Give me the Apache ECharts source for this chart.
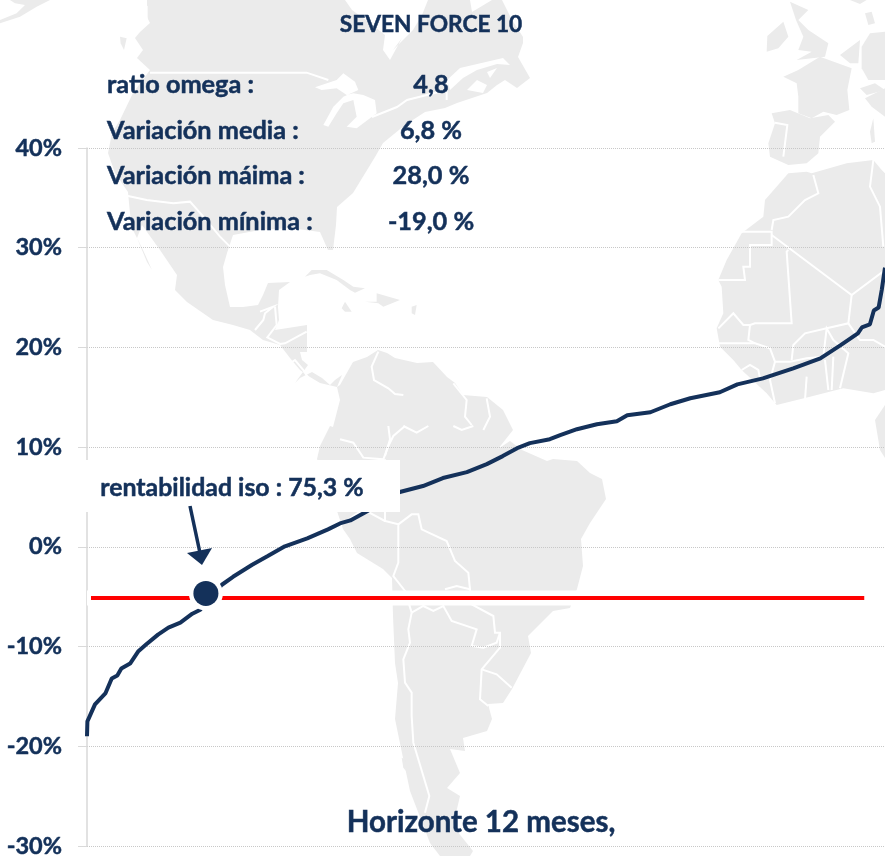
<!DOCTYPE html>
<html>
<head>
<meta charset="utf-8">
<title>Seven Force 10</title>
<style>
html, body { margin: 0; padding: 0; background: #fff; }
#main { width: 885px; height: 856px; }
</style>
<script src="https://cdn.jsdelivr.net/npm/echarts@6/dist/echarts.min.js"></script>
</head>
<body>
<div id="main"></div>
<script>
// data
const percentil = [0, 0.05, 1.0, 2.3, 3.1, 3.8, 4.3, 5.4, 6.4, 7.4, 8.9, 10.2, 11.7, 13.2, 14.2, 16.9, 18.3, 20.7, 22.6, 24.8, 27.6, 30.2, 31.7, 33.0, 34.6, 36.8, 39.2, 42.1, 44.6, 47.6, 50.1, 52.1, 53.9, 55.5, 58.0, 59.3, 61.4, 63.9, 66.4, 67.7, 70.6, 73.1, 75.6, 79.3, 81.5, 84.7, 88.5, 91.9, 94.4, 96.6, 97.1, 98.1, 98.6, 99.2, 99.6, 100];
const variacion = [-19.0, -17.5, -15.8, -14.7, -13.2, -12.9, -12.2, -11.7, -10.5, -9.8, -8.8, -8.1, -7.6, -6.7, -6.3, -3.8, -3.0, -1.8, -0.95, 0.05, 0.85, 1.75, 2.35, 2.65, 3.35, 4.35, 5.5, 6.1, 6.9, 7.5, 8.3, 9.1, 9.9, 10.4, 10.8, 11.2, 11.8, 12.3, 12.6, 13.2, 13.5, 14.3, 14.9, 15.5, 16.3, 16.9, 17.9, 18.9, 20.2, 21.4, 22.0, 22.3, 23.7, 24.0, 25.8, 28.0];
const linea_x = [0.5, 97.4];
const linea_y = [-5.13, -5.13];
const punto_iso = [14.9, -4.67];
const etiquetas = ['ratio omega :', 'Variación media :', 'Variación máima :', 'Variación mínima :'];
const valores = ['4,8', '6,8 %', '28,0 %', '-19,0 %'];

const AZUL = '#14315a';
const FUENTE = 'Lato, "Open Sans", sans-serif';
const TIERRA = '#ebebeb';

// background map, traced by hand in screen pixels (zoom crops are 3x)
function z3(ox, oy, pts) {
    const out = [];
    for (let i = 0; i < pts.length; i += 2) out.push([ox + pts[i] / 3, oy + pts[i + 1] / 3]);
    return out;
}
function pares(pts) { return z3(0, 0, pts.map(v => v * 3)); }

const tierras = [
    // top left corner
    z3(0, 0, [30,0, 150,0, 110,20, 60,50, 0,70, 0,60, 50,40, 75,15, 45,10]),
    // vancouver
    z3(0, 0, [360,110, 380,115, 372,150, 362,130]),
    // north america down to panama
    pares([147,0, 147,17, 150,23, 140,32, 135,38, 143,50, 137,58, 150,70, 133,93, 120,120, 112,133, 108,153, 115,173, 128,192, 130,213,
        132,228, 143,250, 152,270, 147,262, 137,238, 142,225, 160,250, 177,275, 175,290, 187,302, 213,320, 233,325, 250,330, 263,340, 280,345,
        290,358, 300,370, 310,377, 320,383, 337,387, 342,375, 335,380, 330,385, 322,378, 312,372, 300,378, 295,383, 308,365, 302,360, 300,352,
        307,352, 307,325, 275,330, 279,320, 278,307, 279,290, 290,282, 268,283, 263,295, 258,305, 243,307, 230,307, 225,285, 223,267, 227,253, 233,235, 260,230, 290,228,
        320,232, 328,250, 333,250, 336,225, 337,207, 353,193, 375,157, 383,143, 405,125, 425,112, 445,108, 457,103, 487,93, 497,85, 505,80, 517,88, 530,78,
        518,57, 523,43, 523,37, 512,20, 502,0, 492,0, 487,3, 472,12, 470,0, 428,0, 422,15, 413,30, 405,38, 405,38, 393,50, 402,38, 390,60, 383,50, 385,35, 370,23, 352,10, 345,0]),
    // cuba, hispaniola, jamaica, puerto rico
    z3(230, 250, [225,80, 245,60, 290,60, 340,90, 370,110, 405,115, 375,128, 360,120, 320,90, 270,70, 240,75]),
    z3(230, 250, [405,155, 440,155, 440,130, 510,150, 460,170, 445,160]),
    z3(230, 250, [335,175, 345,155, 365,185, 345,185]),
    z3(230, 250, [545,170, 560,165, 555,195, 545,190]),
    // south america
    pares([340,385, 353,362, 367,357, 378,350, 387,353, 395,358, 417,363, 433,362, 447,377, 455,383, 463,395, 487,397, 503,410, 513,430, 498,449, 510,441,
        522,450, 547,461, 553,459, 577,461, 590,473, 602,479, 606,499, 590,523, 581,539, 583,566, 577,589, 570,608, 553,611, 528,636, 531,653,
        512,689, 503,703, 488,704, 492,719, 487,731, 463,738, 465,751, 450,749, 460,773, 447,788, 460,796, 453,826, 473,851, 470,856, 440,856,
        430,843, 410,791, 402,753, 395,719, 398,683, 395,663, 393,616, 392,578, 383,569, 357,553, 350,539, 343,529, 337,511, 317,459, 320,446,
        330,426, 333,427, 340,400, 337,387]),
    // chile islands
    z3(340, 426, [185,995, 195,1000, 198,1035, 190,1025]),
    // iberia
    z3(440, 0, [995,340, 1050,330, 1110,355, 1165,345, 1185,365, 1140,410, 1135,460, 1100,490, 1045,495, 990,470, 985,430, 1005,370]),
    // france
    z3(760, 0, [70,230, 115,210, 180,170, 275,205, 262,270, 268,330, 230,345, 190,335, 155,355, 115,340, 115,290, 110,250]),
    // ireland, great britain
    z3(760, 0, [22,108, 70,65, 85,110, 55,145, 20,155]),
    z3(760, 0, [90,5, 145,30, 115,60, 145,90, 205,130, 195,170, 110,180, 155,155, 115,150, 130,110, 108,60]),
    // low countries, germany and north
    z3(760, 0, [240,165, 300,120, 295,190, 270,190]),
    z3(760, 0, [305,140, 330,100, 375,95, 375,240, 325,240, 305,205]),
    z3(760, 0, [270,0, 320,0, 300,12]),
    z3(760, 0, [315,40, 335,35, 345,70, 325,75]),
    z3(760, 0, [300,265, 345,250, 375,270, 320,285]),
    z3(760, 0, [315,295, 375,265, 375,350, 335,320]),
    z3(760, 0, [330,395, 340,355, 345,425, 335,430]),
    // africa
    z3(440, 0, [1045,520, 975,600, 970,650, 905,700, 860,780, 835,840, 845,860, 850,940, 830,985, 840,1040, 880,1080, 905,1110, 980,1180, 1010,1215,
        1110,1190, 1210,1165, 1300,1180, 1335,1170, 1335,520, 1325,510, 1300,480, 1220,490, 1115,520, 1100,515]),
    pares([875,420, 885,405, 885,458, 880,450])
];

const fronteras = [
    // usa / canada and great lakes outlet
    z3(0, 0, [440,60, 440,20, 420,0]),
    z3(0, 0, [450,218, 920,218, 985,240]),
    pares([372,117, 397,107, 407,100, 447,90, 447,80]),
    z3(300, 0, [440,300, 440,240]),
    // mexico / usa
    z3(0, 0, [370,585, 440,600, 520,610, 570,605, 610,650, 660,710, 690,740]),
    // central america
    z3(230, 250, [90,185, 130,170, 105,190, 100,210, 75,240]),
    z3(230, 250, [135,170, 140,225, 112,262, 150,282, 165,280, 230,245]),
    z3(230, 250, [180,340, 195,330, 220,360, 235,385]),
    // south america
    z3(230, 250, [445,305, 425,350, 432,390, 475,415, 495,432, 520,435]),
    z3(340, 426, [0,40, 40,50, 70,95, 130,100, 145,60, 160,30, 195,0]),
    z3(340, 426, [0,300, 40,270, 70,250, 135,285]),
    z3(340, 426, [135,100, 135,285, 175,295, 175,410, 160,450, 195,495, 215,560]),
    z3(340, 426, [175,295, 215,265, 235,265, 245,310, 320,345, 345,405, 385,440, 390,490, 395,535, 460,570, 465,620, 480,620, 480,665, 425,730, 420,820, 445,840]),
    z3(340, 426, [315,490, 350,480, 390,490]),
    z3(340, 426, [215,560, 205,610, 210,650, 190,700, 195,770, 215,800, 215,870, 220,950, 250,1050, 268,1110, 255,1160]),
    z3(340, 426, [215,560, 250,540, 280,555, 310,540, 335,585, 410,610, 395,660, 430,665, 470,650, 480,620]),
    z3(340, 426, [425,730, 470,745, 515,785]),
    z3(340, 426, [145,0, 150,40, 135,90]),
    z3(340, 426, [190,0, 230,20, 265,0]),
    z3(340, 426, [340,0, 365,12, 400,0]),
    z3(440, 0, [40,1150, 80,1200, 75,1250, 95,1275]),
    z3(440, 0, [140,1195, 150,1250, 130,1290]),
    // portugal
    z3(440, 0, [1005,368, 1042,375, 1030,470]),
    // africa
    z3(440, 0, [1120,525, 1135,580, 1095,600, 1045,650, 1000,660, 995,690]),
    z3(440, 0, [905,695, 995,695, 995,735, 930,735, 930,800, 910,800, 915,840, 835,840]),
    z3(440, 0, [995,705, 1235,885, 1335,810]),
    z3(440, 0, [1045,750, 1040,755, 1055,970, 945,970, 930,975, 925,1020, 945,1030]),
    z3(440, 0, [1235,885, 1225,970, 1160,985, 1095,1000, 1060,1035, 1055,1080]),
    z3(440, 0, [835,985, 880,940, 910,975, 930,975]),
    z3(440, 0, [835,1030, 945,1030, 990,1045, 1005,1085, 1050,1085, 1100,1075, 1150,1070, 1160,985, 1180,1020, 1225,1060, 1200,1165]),
    z3(440, 0, [1155,1080, 1165,1170]),
    z3(440, 0, [1180,1070, 1175,1170]),
    z3(440, 0, [1005,1085, 990,1140, 1005,1210]),
    z3(440, 0, [1100,1130, 1095,1200]),
    z3(440, 0, [905,1110, 930,1095, 955,1110, 960,1135]),
    z3(440, 0, [1300,480, 1290,560, 1320,620, 1330,740]),
    z3(440, 0, [1225,970, 1260,1020, 1300,1020, 1335,1040])
];

// great lakes, st lawrence and the sounds
const aguas = [
    z3(300, 0, [45,262, 110,240, 130,220, 165,245, 175,270, 130,290, 100,320, 70,375, 85,380, 110,340, 130,310, 160,300, 170,350, 140,380, 170,385, 230,340, 225,300, 190,285, 160,280, 140,285, 110,265, 65,270]),
    pares([447,80, 460,68, 503,58, 510,65, 497,64, 477,70, 463,78, 450,90]),
    pares([467,90, 477,80, 487,85, 483,93]),
    pares([487,72, 497,68, 490,78])
];

const mapa = [];
tierras.forEach(p => mapa.push({type: 'polygon', z: -5, silent: true, shape: {points: p}, style: {fill: TIERRA}}));
aguas.forEach(p => mapa.push({type: 'polygon', z: -4, silent: true, shape: {points: p}, style: {fill: '#fff'}}));
fronteras.forEach(p => mapa.push({type: 'polyline', z: -3, silent: true, shape: {points: p}, style: {stroke: '#fff', lineWidth: 2, fill: null}}));

function texto(t, x, y, size, align) {
    return {type: 'text', z: 30, silent: true, style: {text: t, x: x, y: y, fill: AZUL, stroke: AZUL, lineWidth: 0.5, align: align, textAlign: align, verticalAlign: 'middle', textVerticalAlign: 'middle', font: 'bold ' + size + 'px ' + FUENTE}};
}

const rotulos = [
    texto('SEVEN FORCE 10', 431, 25, 22.7, 'center'),
    texto('Horizonte 12 meses,', 481, 822, 29.5, 'center'),
    {type: 'rect', z: 20, silent: true, shape: {x: 86, y: 460, width: 314, height: 52}, style: {fill: '#fff'}},
    texto('rentabilidad iso : 75,3 %', 232, 488, 24.9, 'center'),
    {type: 'line', z: 30, silent: true, shape: {x1: 190, y1: 506, x2: 200, y2: 553}, style: {stroke: AZUL, lineWidth: 3.5}},
    {type: 'polygon', z: 30, silent: true, shape: {points: [[187, 553], [212, 548], [202, 565]]}, style: {fill: AZUL}}
];
const filas_y = [85, 131, 176, 222];
etiquetas.forEach((t, i) => {
    rotulos.push(texto(t, 107, filas_y[i], 25.3, 'left'));
    rotulos.push(texto(valores[i], 431, filas_y[i], 25.3, 'center'));
});

var myChart = echarts.init(document.getElementById('main'));
myChart.setOption({
    animation: false,
    backgroundColor: '#fff',
    grid: {left: 87, right: 0, top: 148, bottom: 10, outerBoundsMode: 'none'},
    xAxis: {
        type: 'value',
        min: 0,
        max: 100,
        axisLine: {show: false},
        axisTick: {show: false},
        axisLabel: {show: false},
        splitLine: {show: false}
    },
    yAxis: {
        type: 'value',
        min: -30,
        max: 40,
        interval: 10,
        axisLine: {show: true, lineStyle: {color: '#d9d9d9', width: 1.5}},
        axisTick: {show: true, length: 9, lineStyle: {color: '#d9d9d9'}},
        axisLabel: {formatter: '{value}%', margin: 25, color: AZUL, fontFamily: FUENTE, fontWeight: 'bold', fontSize: 23.5, textBorderColor: AZUL, textBorderWidth: 0.5, padding: [2, 0, 0, 0]},
        splitLine: {show: true, lineStyle: {color: '#c8c8c8', type: 'dotted', width: 1}}
    },
    series: [
        {
            name: 'variacion',
            type: 'line',
            z: 3,
            showSymbol: false,
            symbol: 'none',
            data: percentil.map((p, i) => [p, variacion[i]]),
            lineStyle: {color: AZUL, width: 4}
        },
        {
            name: 'halo',
            type: 'line',
            z: 4,
            symbol: 'none',
            data: [[0, linea_y[0]], [98.5, linea_y[1]]],
            lineStyle: {color: '#fff', width: 15, cap: 'butt'}
        },
        {
            name: 'objetivo',
            type: 'line',
            z: 5,
            symbol: 'none',
            data: linea_x.map((x, i) => [x, linea_y[i]]),
            lineStyle: {color: '#ff0000', width: 4, cap: 'butt'}
        },
        {
            name: 'borde',
            type: 'scatter',
            z: 6,
            symbolSize: 34,
            data: [punto_iso],
            itemStyle: {color: '#fff', opacity: 1}
        },
        {
            name: 'iso',
            type: 'scatter',
            z: 7,
            symbolSize: 25,
            data: [punto_iso],
            itemStyle: {color: AZUL, opacity: 1}
        }
    ],
    graphic: {elements: mapa.concat(rotulos)}
});
</script>
</body>
</html>
